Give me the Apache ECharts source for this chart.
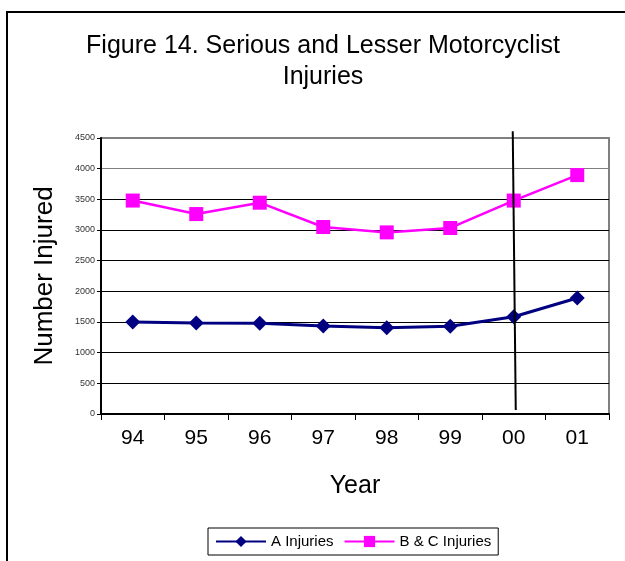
<!DOCTYPE html>
<html>
<head>
<meta charset="utf-8">
<script src="https://cdn.jsdelivr.net/npm/echarts@6/dist/echarts.min.js"></script>
<style>
  html, body { margin: 0; padding: 0; background: #fff; }
  #main { width: 625px; height: 561px; }
</style>
</head>
<body>
<div id="main"></div>
<script>
  // data
  var years = ['94', '95', '96', '97', '98', '99', '00', '01'];
  var aInjuries = [1500, 1484, 1478, 1435, 1408, 1430, 1585, 1892];
  var bcInjuries = [3480, 3260, 3445, 3049, 2961, 3033, 3480, 3895];
  var yTicks = [0, 500, 1000, 1500, 2000, 2500, 3000, 3500, 4000, 4500];
  // vertical divider: [year, top value, bottom value]
  var dividerLine = [['00', 4610, 65]];

  var myChart = echarts.init(document.getElementById('main'));
  var font = 'Liberation Sans, Arial, sans-serif';

  var option = {
    backgroundColor: '#fff',
    animation: false,
    // outer frame (only top and left edges show in the picture)
    graphic: [{
      type: 'rect',
      shape: { x: 7, y: 12, width: 700, height: 700 },
      style: { fill: 'none', stroke: '#000', lineWidth: 2 },
      silent: true
    }],
    title: {
      text: 'Figure 14. Serious and Lesser Motorcyclist\nInjuries',
      left: 318,
      textAlign: 'center',
      top: 26,
      textStyle: {
        fontFamily: font,
        fontSize: 25,
        fontWeight: 'normal',
        color: '#000',
        lineHeight: 31
      }
    },
    legend: {
      data: ['A Injuries', 'B & C Injuries'],
      left: 208,
      top: 528,
      padding: [6, 7, 6, 7],
      borderColor: '#000',
      borderWidth: 1,
      itemWidth: 50,
      itemHeight: 14,
      itemGap: 10,
      textStyle: { fontFamily: font, fontSize: 15, color: '#000' }
    },
    grid: {
      left: 101,
      right: 16,
      top: 138,
      bottom: 147,
      show: true,
      borderColor: '#808080',
      borderWidth: 2
    },
    xAxis: {
      type: 'category',
      data: years,
      boundaryGap: true,
      name: 'Year',
      nameLocation: 'middle',
      nameGap: 60,
      nameTextStyle: { fontFamily: font, fontSize: 25, color: '#000' },
      axisLine: { lineStyle: { color: '#000', width: 2 } },
      axisTick: { show: true, length: 6, lineStyle: { color: '#000', width: 1 } },
      axisLabel: { fontFamily: font, fontSize: 21, color: '#000', margin: 14 }
    },
    yAxis: {
      type: 'value',
      min: yTicks[0],
      max: yTicks[yTicks.length - 1],
      interval: yTicks[1] - yTicks[0],
      name: 'Number Injured',
      nameLocation: 'middle',
      nameGap: 43,
      nameTextStyle: { fontFamily: font, fontSize: 26, color: '#000' },
      axisLine: { show: true, lineStyle: { color: '#000', width: 2 } },
      axisTick: { show: true, length: 4, lineStyle: { color: '#000' } },
      axisLabel: {
        fontFamily: font, fontSize: 9, color: '#333', margin: 6,
        formatter: function (v) { return String(v); }
      },
      splitLine: {
        show: true,
        lineStyle: {
          color: ['#000', '#000', '#000', '#000', '#000', '#000', '#000', '#000', '#808080', '#808080'],
          width: 1
        }
      }
    },
    series: [
      {
        name: 'A Injuries',
        type: 'line',
        data: aInjuries,
        symbol: 'diamond',
        symbolSize: 15,
        itemStyle: { color: '#000080' },
        lineStyle: { color: '#000080', width: 3 },
        z: 3
      },
      {
        name: 'B & C Injuries',
        type: 'line',
        data: bcInjuries,
        symbol: 'rect',
        symbolSize: 14,
        itemStyle: { color: '#ff00ff' },
        lineStyle: { color: '#ff00ff', width: 2.5 },
        z: 2
      },
      {
        name: 'divider',
        type: 'custom',
        data: dividerLine,
        encode: { x: 0, y: [1, 2] },
        clip: false,
        silent: true,
        z: 4,
        renderItem: function (params, api) {
          var top = api.coord([api.value(0), api.value(1)]);
          var bottom = api.coord([api.value(0), api.value(2)]);
          return {
            type: 'line',
            shape: { x1: top[0] - 1, y1: top[1], x2: bottom[0] + 2, y2: bottom[1] },
            style: { stroke: '#000', lineWidth: 2 }
          };
        }
      }
    ]
  };
  myChart.setOption(option);
  window.addEventListener('resize', function () {
    myChart.resize();
  });
</script>
</body>
</html>
